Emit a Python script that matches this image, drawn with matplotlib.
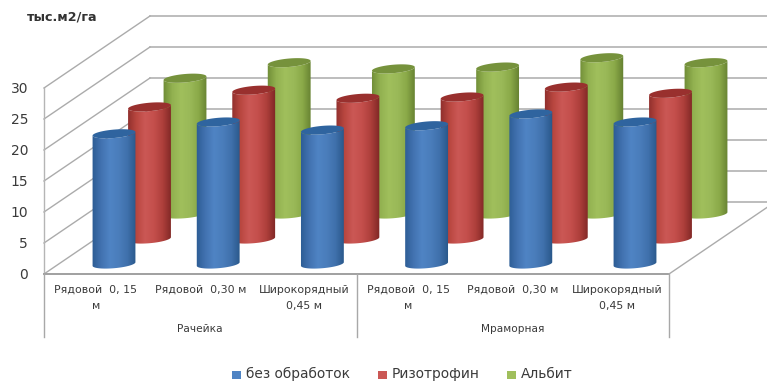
import numpy as np
import matplotlib
matplotlib.use('Agg')
import matplotlib.pyplot as plt
from matplotlib.colors import LinearSegmentedColormap
from matplotlib.patches import Polygon, Rectangle

plt.rcParams['font.family'] = ['DejaVu Sans']

# данные диаграммы
groups = ['Рачейка', 'Мраморная']
categories = ['Рядовой  0, 15\nм', 'Рядовой  0,30 м', 'Широкорядный\n0,45 м'] * 2
series_names = ['без обработок', 'Ризотрофин', 'Альбит']
bez_obrabotok = [21.0, 22.9, 21.6, 22.3, 24.2, 22.9]
rizotrofin = [21.3, 24.0, 22.7, 22.9, 24.5, 23.5]
albit = [21.9, 24.4, 23.4, 23.7, 25.2, 24.4]
y_ticks = [0, 5, 10, 15, 20, 25, 30]

# масштаб и параметры псевдо-3D проекции (пиксели)
W, H = 767, 383
px_per_val = 6.2
x0, y0 = 44, 274
wall_dx, wall_dy = 106, 72
cat_step = 104.2
first_cx = 114
depth_dx, depth_dy = 35.5, 25
base_off = 10
rx, ry = 21.5, 4.2
tilt = np.radians(5)


def yv(px_y):
    return (y0 - px_y) / px_per_val


def ellipse_pts(cx, cy, t):
    ex = rx * np.cos(t)
    ey = ry * np.sin(t)
    return (cx + ex * np.cos(tilt) + ey * np.sin(tilt),
            cy - ex * np.sin(tilt) + ey * np.cos(tilt))


fig = plt.figure(figsize=(W / 100, H / 100), dpi=100)
ax = fig.add_axes([0, 0, 1, 1])
ax.axis('off')

grid_c = '#ababab'
# стенки и пол
for v in y_ticks:
    ax.plot([x0, x0 + wall_dx], [v, v + wall_dy / px_per_val], color=grid_c, lw=1)
    ax.plot([x0 + wall_dx, W + 5], [v + wall_dy / px_per_val] * 2, color=grid_c, lw=1.1)
ax.plot([x0, x0], [0, 30], color='#b5b5b5', lw=1)
ax.plot([x0, x0 + 625], [0, 0], color='#a0a0a0', lw=1.4)
ax.plot([x0 + 625, x0 + 625 + wall_dx], [0, wall_dy / px_per_val], color=grid_c, lw=1)
for xd in [x0, x0 + 313, x0 + 625]:
    ax.plot([xd, xd], [0, yv(337)], color='#a8a8a8', lw=1)


def cylinder(cx, base_v, val, shades, top_c):
    cy_b = y0 - base_v
    cy_t = cy_b - val * px_per_val
    # боковая поверхность: нижняя дуга основания и та же дуга, поднятая на высоту столбика
    ts = np.linspace(0, np.pi, 60)
    low_x, low_y = ellipse_pts(cx, cy_b, ts)
    xs = np.r_[low_x, low_x[::-1]]
    ys = np.r_[low_y, low_y[::-1] - val * px_per_val]
    body = Polygon(np.c_[xs, yv(ys)], closed=True, transform=ax.transData,
                   fc='none', ec='none')
    ax.add_patch(body)
    cmap = LinearSegmentedColormap.from_list('c', shades)
    im = ax.imshow(np.linspace(0, 1, 64).reshape(1, -1), cmap=cmap, aspect='auto',
                   extent=[cx - rx - 1, cx + rx + 1, yv(cy_b + 8), yv(cy_t - 8)],
                   interpolation='bilinear', zorder=2)
    im.set_clip_path(body)
    ex_t, ey_t = ellipse_pts(cx, cy_t, np.linspace(0, 2 * np.pi, 80))
    ax.fill(ex_t, yv(ey_t), color=top_c, lw=0, zorder=2)


colors = [
    (['#2c5c94', '#4272b0', '#4f84c4', '#4a7dbb', '#3f70ab', '#285688'], '#2f649f'),
    (['#8e2e2c', '#b8463f', '#cb5855', '#c44f4c', '#ae3f3b', '#7f2725'], '#99302e'),
    (['#6f8c36', '#92b150', '#a0bf5c', '#9ab958', '#8aa948', '#647f30'], '#76923c'),
]
all_values = [bez_obrabotok, rizotrofin, albit]

# ряды рисуются от дальнего к ближнему
for s in [2, 1, 0]:
    for c, val in enumerate(all_values[s]):
        cx = first_cx + c * cat_step + s * depth_dx
        base = base_off + s * depth_dy
        cylinder(cx, base, val, colors[s][0], colors[s][1])

ax.set_xlim(0, W)
ax.set_ylim(yv(H), yv(0))

# подписи осей
txt_c = '#3a3a3a'
for v in y_ticks:
    ax.text(28, v - 0.2, str(v), ha='right', va='center', fontsize=10, color=txt_c)
ax.text(27, yv(17), 'тыс.м2/га', ha='left', va='center', fontsize=9.2,
        fontweight='bold', color='#333333')
for c, name in enumerate(categories):
    xc = 96 + c * cat_step
    for j, ln in enumerate(name.split('\n')):
        ax.text(xc, yv(290 + 16 * j), ln, ha='center', va='center', fontsize=7.9, color=txt_c)
for g, name in enumerate(groups):
    ax.text(200 + g * 312.5, yv(329), name, ha='center', va='center', fontsize=7.6, color=txt_c)

# легенда
leg_x = [232, 378, 507]
for s, name in enumerate(series_names):
    mid = colors[s][0][2]
    ax.add_patch(Rectangle((leg_x[s], yv(379)), 9, 8 / px_per_val, fc=mid, ec='none'))
    ax.text(leg_x[s] + 13.5, yv(374), name, ha='left', va='center', fontsize=9.9, color=txt_c)

fig.savefig('out.png', dpi=100)
